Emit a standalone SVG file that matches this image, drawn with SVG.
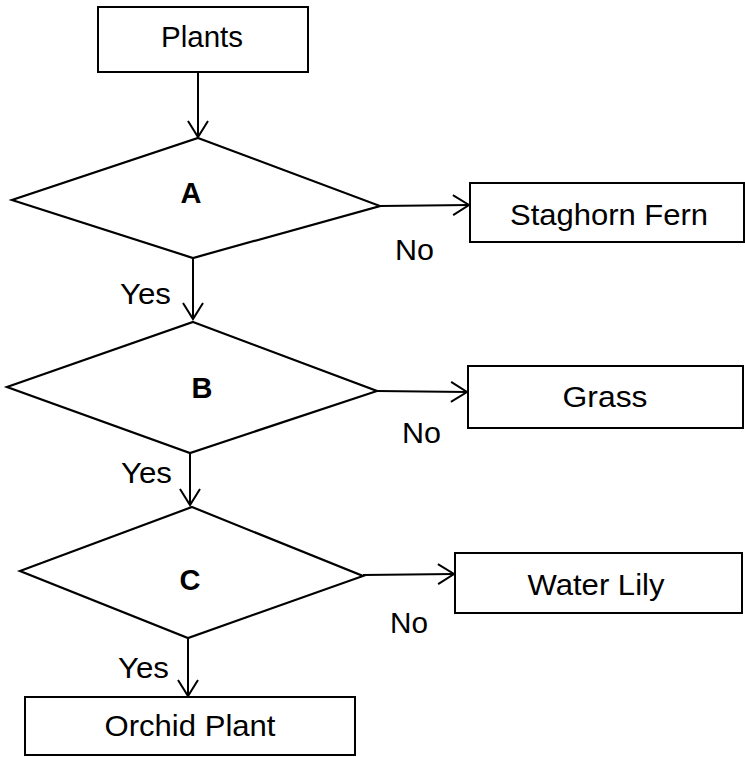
<svg xmlns="http://www.w3.org/2000/svg" width="745" height="757" viewBox="0 0 745 757">
<style>
  .box { fill: #fff; stroke: #000; stroke-width: 2; }
  .dia { fill: #fff; stroke: #000; stroke-width: 2.2; stroke-linejoin: miter; }
  .lbl { font-family: "Liberation Sans", Arial, sans-serif; font-size: 29px; fill: #000; }
  .mid { text-anchor: middle; }
  .bold { font-weight: bold; }
  .conn { fill: none; stroke: #000; stroke-width: 2; marker-end: url(#arrow); }
</style>
<defs>
  <marker id="arrow" viewBox="0 0 20 24" markerWidth="20" markerHeight="24" refX="18" refY="12" orient="auto" markerUnits="userSpaceOnUse">
    <path d="M2,2 L18,12 L2,22" fill="none" stroke="#000" stroke-width="2"/>
  </marker>
</defs>
<rect width="745" height="757" fill="#fff"/>
<g id="connectors">
  <line class="conn" x1="198" y1="72" x2="198" y2="137"/>
  <line class="conn" x1="193" y1="258" x2="193" y2="319"/>
  <line class="conn" x1="190" y1="453" x2="190" y2="505"/>
  <line class="conn" x1="188" y1="638" x2="188" y2="696"/>
  <line class="conn" x1="380" y1="206" x2="469" y2="205"/>
  <line class="conn" x1="377" y1="391" x2="467" y2="392"/>
  <line class="conn" x1="363" y1="575" x2="454" y2="574"/>
  <text class="lbl" x="120" y="304" textLength="51" lengthAdjust="spacingAndGlyphs">Yes</text>
  <text class="lbl" x="121" y="483" textLength="51" lengthAdjust="spacingAndGlyphs">Yes</text>
  <text class="lbl" x="118" y="678" textLength="51" lengthAdjust="spacingAndGlyphs">Yes</text>
  <text class="lbl" x="395" y="260" textLength="39" lengthAdjust="spacingAndGlyphs">No</text>
  <text class="lbl" x="402" y="443" textLength="39" lengthAdjust="spacingAndGlyphs">No</text>
  <text class="lbl" x="390" y="633" textLength="38" lengthAdjust="spacingAndGlyphs">No</text>
</g>
<g id="plants">
  <rect class="box" x="98" y="7" width="210" height="65"/>
  <text class="lbl mid" x="202" y="47" textLength="82" lengthAdjust="spacingAndGlyphs">Plants</text>
</g>
<g id="decisionA">
  <polygon class="dia" points="198,138 380,206 193,258 12,200"/>
  <text class="lbl mid bold" x="191" y="203">A</text>
</g>
<g id="staghorn">
  <rect class="box" x="470" y="183" width="274" height="59"/>
  <text class="lbl mid" x="609" y="225" textLength="198" lengthAdjust="spacingAndGlyphs">Staghorn Fern</text>
</g>
<g id="decisionB">
  <polygon class="dia" points="193,322 377,391 190,453 7,387"/>
  <text class="lbl mid bold" x="202" y="398">B</text>
</g>
<g id="grass">
  <rect class="box" x="468" y="366" width="275" height="62"/>
  <text class="lbl mid" x="605" y="407" textLength="85" lengthAdjust="spacingAndGlyphs">Grass</text>
</g>
<g id="decisionC">
  <polygon class="dia" points="192,507 363,576 188,638 20,571"/>
  <text class="lbl mid bold" x="190" y="590">C</text>
</g>
<g id="waterlily">
  <rect class="box" x="455" y="553" width="287" height="60"/>
  <text class="lbl mid" x="596" y="595" textLength="137" lengthAdjust="spacingAndGlyphs">Water Lily</text>
</g>
<g id="orchid">
  <rect class="box" x="25" y="697" width="330" height="58"/>
  <text class="lbl mid" x="190" y="736" textLength="171" lengthAdjust="spacingAndGlyphs">Orchid Plant</text>
</g>
</svg>
